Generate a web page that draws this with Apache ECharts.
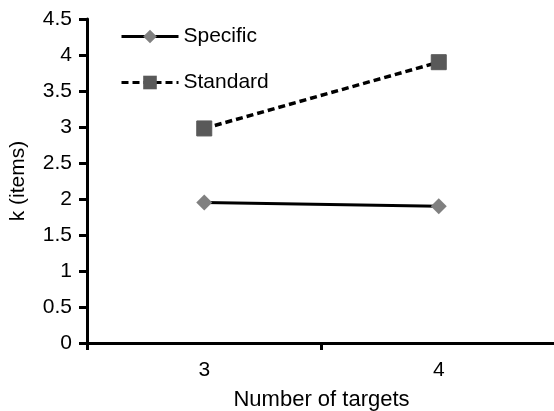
<!DOCTYPE html>
<html><head><meta charset="utf-8">
<script src="https://cdn.jsdelivr.net/npm/echarts@6/dist/echarts.min.js"></script>
<style>html,body{margin:0;padding:0;background:#fff;overflow:hidden}#c{width:560px;height:411px}</style>
</head><body><div id="c"></div>
<script>
const categories = ['3', '4'];
const specific = [1.95, 1.90];
const standard = [2.98, 3.90];
const seriesNames = ['Specific', 'Standard'];
const yTicks = [0, 0.5, 1, 1.5, 2, 2.5, 3, 3.5, 4, 4.5];

const font = 'Arial';
const fs = 21;
const chart = echarts.init(document.getElementById('c'));
chart.setOption({
  animation: false,
  backgroundColor: '#fff',
  grid: { left: 87, right: 4, top: 19, bottom: 68, containLabel: false, outerBoundsMode: 'none' },
  legend: {
    orient: 'vertical', left: 115, top: 21, itemGap: 25,
    itemWidth: 57, itemHeight: 17,
    lineStyle: { width: 3 },
    textStyle: { fontFamily: font, fontSize: fs, color: '#000' },
    data: seriesNames
  },
  xAxis: {
    type: 'category', data: categories, boundaryGap: true,
    name: 'Number of targets', nameLocation: 'middle', nameGap: 46,
    nameTextStyle: { fontFamily: font, fontSize: 22, color: '#000' },
    axisLine: { lineStyle: { color: '#000', width: 3 } },
    axisTick: { show: true, length: 7, inside: false, lineStyle: { color: '#000', width: 3 } },
    axisLabel: { fontFamily: font, fontSize: fs, color: '#000', margin: 17 },
    splitLine: { show: false }
  },
  yAxis: {
    type: 'value', min: 0, max: 4.5, interval: 0.5,
    name: 'k (items)', nameLocation: 'middle', nameGap: 58, nameRotate: 90,
    nameTextStyle: { fontFamily: font, fontSize: fs, color: '#000' },
    axisLine: { show: true, lineStyle: { color: '#000', width: 3 } },
    axisTick: { show: true, length: 8, lineStyle: { color: '#000', width: 3 } },
    axisLabel: { fontFamily: font, fontSize: fs, color: '#000', margin: 15,
      formatter: v => yTicks.includes(v) ? String(v) : '' },
    splitLine: { show: false }
  },
  series: [
    {
      name: seriesNames[0], type: 'line', data: specific,
      symbol: 'diamond', symbolSize: 16,
      itemStyle: { color: '#808080' },
      lineStyle: { color: '#000', width: 3, type: 'solid' }
    },
    {
      name: seriesNames[1], type: 'line', data: standard,
      symbol: 'rect', symbolSize: 15,
      itemStyle: { color: '#595959', borderColor: '#595959' },
      lineStyle: { color: '#000', width: 3.5, type: [7, 4] }
    }
  ]
});
</script></body></html>
